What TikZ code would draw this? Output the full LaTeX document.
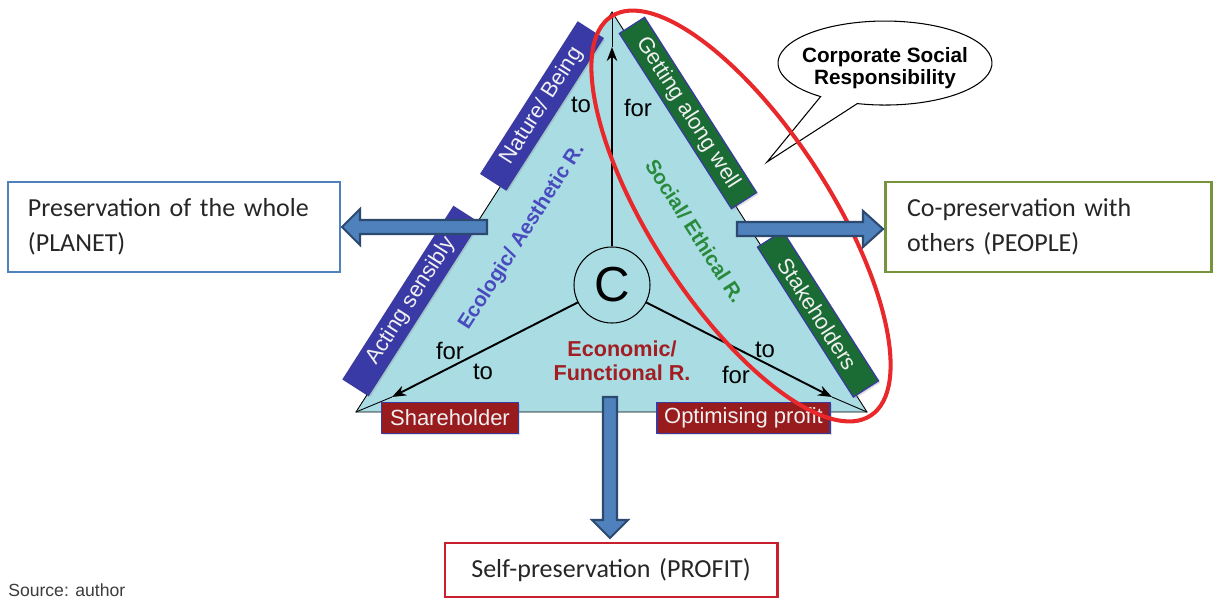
\documentclass[tikz,border=0pt]{standalone}
\usepackage{fontspec}
\setmainfont{Liberation Sans}
\newfontfamily\carl{Carlito}
\usetikzlibrary{arrows.meta,shadows,shapes.geometric}
\newdimen\pxu \pxu=0.02cm
\definecolor{triFill}{HTML}{A9DCE3}
\definecolor{ecoBox}{HTML}{3A3AA6}
\definecolor{socBox}{HTML}{1B6B34}
\definecolor{ecnBox}{HTML}{981B1E}
\definecolor{boxEdge}{HTML}{3A3AA0}
\definecolor{ecoText}{HTML}{4A4ABF}
\definecolor{socText}{HTML}{2A8A3C}
\definecolor{ecnText}{HTML}{A21E23}
\definecolor{planetC}{HTML}{4F81BD}
\definecolor{peopleC}{HTML}{77933C}
\definecolor{profitC}{HTML}{C8202D}
\definecolor{arrowFill}{HTML}{4F81BD}
\definecolor{arrowEdge}{HTML}{2C4A70}
\definecolor{csrRed}{HTML}{E8282B}
\definecolor{txtGray}{HTML}{262626}
\tikzset{
  edgelabel/.style={draw=boxEdge, line width=0.7pt, text=white!94!black,
    font=\fontsize{12.5}{14}\selectfont, minimum height=30*\pxu, inner sep=0pt,
    drop shadow={opacity=0.25, shadow xshift=1pt, shadow yshift=-1pt}},
  ecolabel/.style={edgelabel, fill=ecoBox, rotate=57.4},
  soclabel/.style={edgelabel, fill=socBox, rotate=-57.4},
  ecnlabel/.style={edgelabel, fill=ecnBox},
  word/.style={font=\fontsize{13.6}{16}\selectfont, inner sep=0pt},
  resp/.style={font=\bfseries\fontsize{11.8}{14}\selectfont, inner sep=0pt},
  goalbox/.style={draw, line width=1.7pt, fill=white, text=txtGray,
    font=\carl\fontsize{14.8}{19.8}\selectfont, align=left, inner ysep=0pt},
  blockarrow/.style={fill=arrowFill, draw=arrowEdge, line width=1.2pt, line join=miter},
  linkarrow/.style={line width=1.1pt, -{Stealth[length=8pt,width=6pt]}},
  thinline/.style={line width=0.5pt}
}
\begin{document}
\begin{tikzpicture}[x=0.02cm, y=0.02cm]
\useasboundingbox (0,0) rectangle (1214,599);
\fill[white] (0,0) rectangle (1214,599);

% triangle
\coordinate (apex) at (612,587);
\coordinate (bl) at (356,187);
\coordinate (br) at (867,187);
\filldraw[fill=triFill, thinline] (apex) -- (br) -- (bl) -- cycle;

% edge labels
\node[ecolabel, minimum width=180*\pxu] (nature) at (542,493) {Nature/ Being};
\node[ecolabel, minimum width=205*\pxu] (acting) at (411,298) {Acting sensibly};
\node[soclabel, minimum width=208*\pxu] (getting) at (688,486) {Getting along well};
\node[soclabel, minimum width=178*\pxu] (stake) at (818,285) {Stakeholders};
\node[ecnlabel, minimum width=137*\pxu, minimum height=31*\pxu] (share) at (450,181) {Shareholder};
\node[ecnlabel, minimum width=173*\pxu, minimum height=31*\pxu] (optim) at (743.5,181) {Optimising profit};

% centre circle and arrows
\node[circle, draw, fill=triFill, line width=0.6pt, minimum size=76*\pxu, inner sep=0pt,
      font=\fontsize{28}{30}\selectfont] (C) at (612,314) {C};
\coordinate (tipT) at (612,552);
\coordinate (tipL) at (392,202);
\coordinate (tipR) at (832,202);
\draw[linkarrow] (C) -- (tipT);
\draw[linkarrow] (C) -- (tipL);
\draw[linkarrow] (C) -- (tipR);
\draw[thinline] (tipT) -- (apex);
\draw[thinline] (tipL) -- (bl);
\draw[thinline] (tipR) -- (br);

% to / for
\node[word] (toT) at (581,494) {to};
\node[word] (forT) at (638,491) {for};
\node[word] (forL) at (450,248) {for};
\node[word] (toL) at (483,227) {to};
\node[word] (toR) at (765,249) {to};
\node[word] (forR) at (736,224) {for};

% responsibilities
\node[font=\bfseries\fontsize{11.7}{14}\selectfont, text=ecoText, rotate=57.4] (eco) at (522,362) {Ecologic/ Aesthetic R.};
\node[font=\bfseries\fontsize{11.7}{14}\selectfont, text=socText, rotate=-57.4] (soc) at (695,368) {Social/ Ethical R.};
\node[font=\bfseries\fontsize{12.3}{14}\selectfont, text=ecnText, anchor=base, inner sep=0pt] (ecn1) at (622,242) {Economic/};
\node[font=\bfseries\fontsize{12.3}{14}\selectfont, text=ecnText, anchor=base, inner sep=0pt] (ecn2) at (622,218) {Functional R.};

% callout
\coordinate (csrTip) at (767,437);
\filldraw[fill=white, line width=0.6pt] (csrTip) -- (857.3,495.4)
  arc[start angle=255, end angle=593, x radius=2.14cm, y radius=0.84cm] -- cycle;
\node[resp, anchor=base] (csr1) at (885,536) {Corporate Social};
\node[resp, anchor=base] (csr2) at (885,514) {Responsibility};

% red oval
\node[ellipse, draw=csrRed, line width=2.3pt, minimum width=476*\pxu, minimum height=178*\pxu,
      inner sep=0pt, rotate=-57] (csrOval) at (741,383) {};

% goal boxes
\node[goalbox, draw=planetC, minimum width=332*\pxu, minimum height=90*\pxu,
      text width=292*\pxu, inner xsep=20*\pxu] (planet) at (174,372) {Preservation of the whole\\(PLANET)};
\node[goalbox, draw=peopleC, minimum width=326*\pxu, minimum height=90*\pxu,
      text width=282*\pxu, inner xsep=22*\pxu] (people) at (1048,372) {Co-preservation with\\others (PEOPLE)};
\node[goalbox, draw=profitC, minimum width=332*\pxu, minimum height=54*\pxu,
      text width=300*\pxu, inner xsep=16*\pxu, align=center] (profit) at (611,29) {Self-preservation (PROFIT)};

% block arrows
\draw[blockarrow] (487,379) -- (360,379) -- (360,390) -- (342,372) -- (360,354) -- (360,365) -- (487,365) -- cycle;
\draw[blockarrow] (737,377) -- (863,377) -- (863,388) -- (883,370) -- (863,352) -- (863,363) -- (737,363) -- cycle;
\draw[blockarrow] (603,202) -- (603,79) -- (592,79) -- (610,61) -- (628,79) -- (617,79) -- (617,202) -- cycle;

% source
\node[anchor=base west, inner sep=0pt, font=\fontsize{10}{12}\selectfont, text=txtGray!90] (src) at (8,3) {Source: author};
\end{tikzpicture}
\end{document}
